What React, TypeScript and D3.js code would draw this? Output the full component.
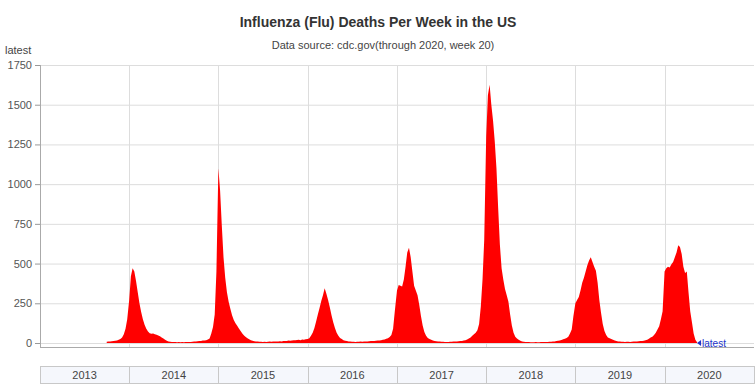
import React from 'react'
import * as d3 from 'd3'

// weekly flu deaths, per calendar year (2013 starts at week 40, 2020 ends at week 20)
const firstWeek2013 = 40
const deaths2013 = [8, 9, 10, 11, 12, 14, 15, 20, 25, 35, 55, 90, 150]
const deaths2014 = [
  270, 420, 470, 450, 390, 320, 250, 195, 150, 115, 90, 72, 62,
  58, 60, 55, 52, 48, 42, 35, 28, 20, 14, 10, 8, 7,
  6, 6, 5, 6, 5, 6, 5, 6, 7, 6, 7, 8, 9,
  10, 11, 12, 13, 15, 16, 18, 22, 28, 60, 100, 180, 450,
]
const deaths2015 = [
  1100, 960, 740, 540, 410, 320, 260, 215, 175, 145, 125, 108, 92,
  75, 60, 48, 38, 30, 24, 18, 14, 11, 10, 9, 8, 8,
  7, 8, 7, 8, 9, 8, 9, 10, 9, 10, 11, 10, 12,
  12, 13, 15, 14, 16, 18, 17, 19, 20, 18, 22, 21, 24,
]
const deaths2016 = [
  25, 30, 45, 65, 95, 135, 180, 220, 265, 300, 345, 310, 270,
  225, 175, 130, 95, 65, 45, 32, 25, 18, 14, 12, 10, 9,
  8, 8, 7, 8, 8, 9, 8, 9, 10, 10, 11, 12, 12,
  13, 14, 15, 16, 18, 20, 22, 26, 30, 38, 50, 90, 200,
]
const deaths2017 = [
  330, 365, 360, 355, 400, 480, 570, 600, 540, 450, 360, 330, 300,
  240, 170, 110, 70, 45, 32, 25, 20, 16, 13, 11, 10, 9,
  8, 8, 7, 7, 7, 8, 8, 9, 9, 10, 11, 12, 13,
  15, 18, 22, 28, 35, 45, 55, 65, 80, 120, 230, 400, 650,
]
const deaths2018 = [
  1300, 1560, 1625, 1500, 1400, 1270, 1100, 850, 620, 470, 400, 340, 300,
  260, 180, 110, 65, 40, 28, 20, 14, 10, 8, 7, 6, 6,
  5, 5, 5, 6, 5, 5, 6, 6, 6, 7, 7, 8, 8,
  9, 10, 12, 14, 16, 19, 23, 27, 32, 40, 60, 85, 170,
]
const deaths2019 = [
  250, 270, 290, 330, 380, 410, 450, 490, 520, 540, 510, 480, 455,
  380, 270, 190, 120, 75, 50, 35, 30, 25, 20, 15, 12, 10,
  9, 8, 8, 7, 8, 8, 7, 8, 9, 9, 10, 11, 12,
  12, 14, 17, 20, 26, 35, 40, 50, 65, 85, 105, 150, 200,
]
const deaths2020 = [
  450, 470, 480, 475, 495, 510, 540, 570, 615, 605, 560, 480, 440,
  450, 320, 200, 130, 60, 20, 5,
]

const years = [2013, 2014, 2015, 2016, 2017, 2018, 2019, 2020]
const yTicks = [0, 250, 500, 750, 1000, 1250, 1500, 1750]

const title = 'Influenza (Flu) Deaths Per Week in the US'
const subtitle = 'Data source: cdc.gov(through 2020, week 20)'

type Pt = { date: Date; value: number }

const weekDate = (year: number, week: number) =>
  d3.timeDay.offset(new Date(year, 0, 1), (week - 1) * 7)

const buildSeries = (): Pt[] => {
  const out: Pt[] = []
  deaths2013.forEach((v, i) => out.push({ date: weekDate(2013, firstWeek2013 + i), value: v }))
  const rest: [number, number[]][] = [
    [2014, deaths2014], [2015, deaths2015], [2016, deaths2016], [2017, deaths2017],
    [2018, deaths2018], [2019, deaths2019], [2020, deaths2020],
  ]
  rest.forEach(([yr, arr]) => arr.forEach((v, i) => out.push({ date: weekDate(yr, i + 1), value: v })))
  return out
}

const W = 756
const H = 385
const left = 40
const right = 754
const top = 65
const zeroY = 343
const axisY = 347

const font = 'Arial, "Liberation Sans", sans-serif'

export default function App() {
  const data = buildSeries()

  const x = d3.scaleTime().domain([new Date(2013, 0, 1), new Date(2021, 0, 1)]).range([left, right])
  const y = d3.scaleLinear().domain([0, 1750]).range([zeroY, top])

  const area = d3.area<Pt>()
    .x(d => x(d.date))
    .y0(y(0))
    .y1(d => y(d.value))

  const last = data[data.length - 1]
  const lx = x(last.date)
  const ly = y(0)

  return (
    <div style={{ position: 'absolute', left: 0, top: 0 }}>
      <svg width={W} height={H} style={{ display: 'block', fontFamily: font }}>
        <rect width={W} height={H} fill="#fff" />
        <text x={378} y={27} textAnchor="middle" fontSize={14} fontWeight="bold" fill="#333">{title}</text>
        <text x={383} y={49} textAnchor="middle" fontSize={11} fill="#444">{subtitle}</text>
        <text x={5} y={54} fontSize={11} fill="#444">latest</text>

        {/* horizontal grid + y ticks */}
        {yTicks.map(t => (
          <g key={t}>
            <line x1={left} x2={right} y1={y(t) + 0.5} y2={y(t) + 0.5} stroke="#dddddd" />
            <line x1={left - 5} x2={left} y1={y(t) + 0.5} y2={y(t) + 0.5} stroke="#999" />
            <text x={left - 8} y={y(t) + 4} textAnchor="end" fontSize={11} fill="#555">{t}</text>
          </g>
        ))}

        {/* vertical year grid */}
        {years.slice(1).map(yr => (
          <line key={yr} x1={Math.round(x(new Date(yr, 0, 1))) + 0.5} x2={Math.round(x(new Date(yr, 0, 1))) + 0.5}
            y1={top} y2={axisY} stroke="#dddddd" />
        ))}

        <path d={area(data) || ''} fill="#ff0000" />

        {/* axes */}
        <line x1={left + 0.5} x2={left + 0.5} y1={top} y2={axisY} stroke="#aaa" />
        <line x1={left} x2={right} y1={axisY + 0.5} y2={axisY + 0.5} stroke="#aaa" />

        {/* latest marker */}
        <path d={`M${lx},${ly} l4,-3 l0,6 z`} fill="#2233cc" />
        <text x={lx + 5} y={ly + 4} fontSize={10} fill="#2233cc">latest</text>

        {/* year bands */}
        {years.map(yr => {
          const x0 = x(new Date(yr, 0, 1))
          const x1 = x(new Date(yr + 1, 0, 1))
          return (
            <g key={yr}>
              <rect x={Math.round(x0) + 0.5} y={366.5} width={Math.round(x1) - Math.round(x0)} height={17}
                fill="#f5f7fc" stroke="#c8c8c8" />
              <text x={(x0 + x1) / 2} y={379} textAnchor="middle" fontSize={11} fill="#444">{yr}</text>
            </g>
          )
        })}
      </svg>
    </div>
  )
}
